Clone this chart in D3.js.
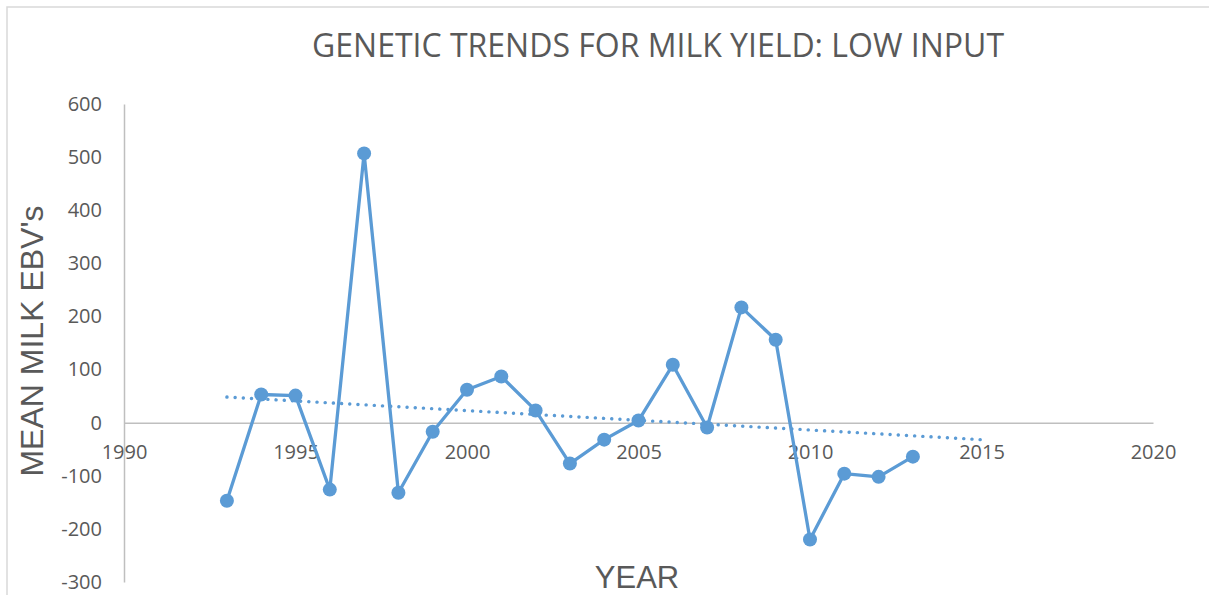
<!DOCTYPE html>
<html>
<head>
<meta charset="utf-8">
<script src="https://cdn.jsdelivr.net/npm/d3@7"></script>
<style>
  html, body { margin: 0; padding: 0; background: #fff; }
  svg { display: block; }
</style>
</head>
<body>
<script>
// Mean milk EBVs per birth year, low-input herds
const years = [1993, 1994, 1995, 1996, 1997, 1998, 1999, 2000, 2001, 2002, 2003,
               2004, 2005, 2006, 2007, 2008, 2009, 2010, 2011, 2012, 2013];
const milkEBV = [-147, 53, 51, -126, 507, -132, -17, 62, 87, 23, -77,
                 -32, 4, 109, -9, 217, 156, -220, -96, -102, -64];
const xTicks = [1990, 1995, 2000, 2005, 2010, 2015, 2020];
const yTicks = [-300, -200, -100, 0, 100, 200, 300, 400, 500, 600];
const trendForward = 2; // linear trend extended two years ahead

const W = 1209, H = 595;
const margin = { left: 124, right: 56, top: 104, bottom: 13 };
const textColor = "#595959";
const axisColor = "#bfbfbf";
const seriesColor = "#5b9bd5";
const plain = d => String(d); // hyphen-minus, as typed

const svg = d3.select("body").append("svg").attr("width", W).attr("height", H);
svg.append("rect").attr("width", W).attr("height", H).attr("fill", "#fff");
// chart area frame
svg.append("rect").attr("x", 7).attr("y", 7).attr("width", W + 50).attr("height", H + 50)
  .attr("fill", "none").attr("stroke", "#d9d9d9").attr("stroke-width", 1.5);

const x = d3.scaleLinear().domain([1990, 2020]).range([margin.left, W - margin.right]);
const y = d3.scaleLinear().domain([-300, 600]).range([H - margin.bottom, margin.top]);

// title
svg.append("text").attr("x", 658).attr("y", 57).attr("text-anchor", "middle")
  .attr("font-family", "'Open Sans', sans-serif").attr("font-size", 32)
  .attr("fill", textColor).text("GENETIC TRENDS FOR MILK YIELD: LOW INPUT");

// y axis
const yAxis = svg.append("g").attr("transform", `translate(${margin.left},0)`)
  .call(d3.axisLeft(y).tickValues(yTicks).tickSize(0).tickPadding(22).tickFormat(plain));
yAxis.select(".domain").attr("stroke", axisColor).attr("stroke-width", 1.5);
yAxis.selectAll("text").attr("font-family", "'Open Sans', sans-serif").attr("font-size", 20)
  .attr("fill", textColor);

// x axis crossing at zero
const xAxis = svg.append("g").attr("transform", `translate(0,${y(0)})`)
  .call(d3.axisBottom(x).tickValues(xTicks).tickSize(0).tickPadding(22).tickFormat(plain));
xAxis.select(".domain").attr("stroke", axisColor).attr("stroke-width", 1.5);
xAxis.selectAll("text").attr("font-family", "'Open Sans', sans-serif").attr("font-size", 20)
  .attr("fill", textColor);

// axis titles
svg.append("text").attr("transform", "translate(43,341) rotate(-90)").attr("text-anchor", "middle")
  .attr("font-family", "'Liberation Sans', Arial, sans-serif").attr("font-size", 32)
  .attr("fill", textColor).text("MEAN MILK EBV's");
svg.append("text").attr("x", 637).attr("y", 588).attr("text-anchor", "middle")
  .attr("font-family", "'Liberation Sans', Arial, sans-serif").attr("font-size", 31)
  .attr("fill", textColor).text("YEAR");

// least-squares linear trend
const n = years.length;
const mx = d3.mean(years), my = d3.mean(milkEBV);
const slope = d3.sum(years, (v, i) => (v - mx) * (milkEBV[i] - my)) /
              d3.sum(years, v => (v - mx) * (v - mx));
const trendAt = t => my + slope * (t - mx);
const tStart = years[0], tEnd = years[n - 1] + trendForward;
svg.append("line")
  .attr("x1", x(tStart)).attr("y1", y(trendAt(tStart)))
  .attr("x2", x(tEnd)).attr("y2", y(trendAt(tEnd)))
  .attr("stroke", seriesColor).attr("stroke-width", 3.4)
  .attr("stroke-linecap", "round").attr("stroke-dasharray", "0.1 8.1");

// series line and markers
const pts = years.map((t, i) => [t, milkEBV[i]]);
svg.append("path").datum(pts)
  .attr("fill", "none").attr("stroke", seriesColor).attr("stroke-width", 3.3)
  .attr("stroke-linejoin", "round")
  .attr("d", d3.line().x(d => x(d[0])).y(d => y(d[1])));
svg.selectAll("circle.pt").data(pts).enter().append("circle").attr("class", "pt")
  .attr("cx", d => x(d[0])).attr("cy", d => y(d[1])).attr("r", 7)
  .attr("fill", seriesColor);
</script>
</body>
</html>
